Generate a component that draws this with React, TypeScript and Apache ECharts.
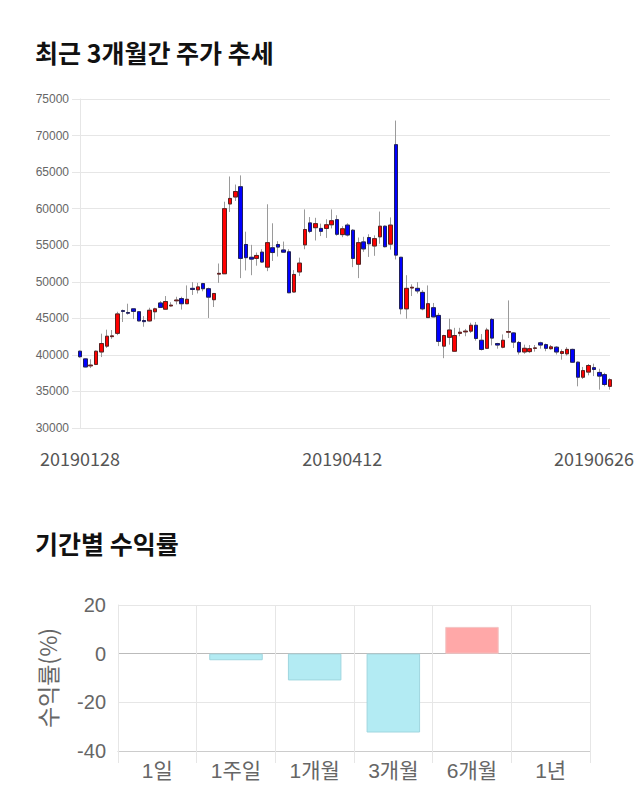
import React, { useEffect, useRef } from 'react';
import * as echarts from 'echarts';

const dates = [
  '20190128','20190129','20190130','20190131',
  '20190207','20190208',
  '20190211','20190212','20190213','20190214','20190215',
  '20190218','20190219','20190220','20190221','20190222',
  '20190225','20190226','20190227','20190228',
  '20190304','20190305','20190306','20190307','20190308',
  '20190311','20190312','20190313','20190314','20190315',
  '20190318','20190319','20190320','20190321','20190322',
  '20190325','20190326','20190327','20190328','20190329',
  '20190401','20190402','20190403','20190404','20190405',
  '20190408','20190409','20190410','20190411','20190412',
  '20190415','20190416','20190417','20190418','20190419',
  '20190422','20190423','20190424','20190425','20190426',
  '20190429','20190430',
  '20190502','20190503',
  '20190507','20190508','20190509','20190510',
  '20190513','20190514','20190515','20190516','20190517',
  '20190520','20190521','20190522','20190523','20190524',
  '20190527','20190528','20190529','20190530','20190531',
  '20190603','20190604','20190605','20190607',
  '20190610','20190611','20190612','20190613','20190614',
  '20190617','20190618','20190619','20190620','20190621',
  '20190624','20190625','20190626',
];

const opens = [
  40500, 39450, 38500, 38700, 40400, 41200, 42500, 42950, 46050, 45800,
  46300, 45900, 44700, 44650, 45900, 47100, 46250, 46700, 47400, 47700,
  47000, 49100, 48900, 49750, 49050, 47550, 51050, 51100, 60650, 61600,
  63000, 55100, 53350, 53200, 54050, 52000, 54650, 55100, 54350, 54100,
  48600, 51350, 55050, 58050, 57400, 57300, 57300, 57800, 58500, 56450,
  57750, 57050, 52400, 55450, 56050, 54900, 56150, 57600, 55150, 68750,
  53350, 46300, 49150, 49100, 48550, 45100, 46450, 45400, 41200, 42400,
  40500, 42950, 43150, 43250, 44050, 42000, 40900, 44850, 41550, 41050,
  43100, 43000, 41700, 40400, 40450, 40900, 41650, 41400, 40850, 41050,
  40200, 40150, 40750, 39000, 36950, 37650, 38250, 37600, 37300, 35700,
];

const closes = [
  39750, 38350, 38600, 40500, 41550, 42550, 42600, 45600, 45950, 45700,
  45950, 44650, 44550, 46100, 46300, 46500, 47300, 46800, 47500, 47000,
  47600, 48950, 49300, 49050, 47900, 48400, 51150, 60000, 61400, 62350,
  53200, 53300, 53100, 53600, 52700, 55350, 54000, 54750, 54050, 48500,
  51000, 52550, 57150, 56900, 57950, 56900, 57800, 58350, 56500, 57250,
  56400, 53200, 55350, 54500, 55200, 55900, 57600, 54800, 57750, 53650,
  46300, 49100, 49250, 48750, 46300, 47000, 45200, 41850, 42650, 43400,
  42650, 43100, 43250, 44050, 42250, 40750, 43400, 42300, 41350, 42000,
  43200, 41750, 40400, 40900, 40850, 40950, 41350, 40900, 41100, 40400,
  40450, 40750, 39000, 36950, 37850, 38550, 38000, 37100, 35950, 36600,
];

const lows = [
  39600, 38300, 38200, 38600, 39700, 40950, 42200, 42700, 44500, 45500,
  44900, 44600, 43850, 44550, 44850, 46450, 46200, 46600, 46900, 46200,
  46950, 48200, 48400, 48700, 45050, 46550, 49850, 51100, 59550, 61050,
  50500, 51550, 50900, 52200, 52600, 51450, 52850, 53450, 54000, 48450,
  48550, 50800, 54450, 56650, 55650, 56250, 56000, 57300, 56300, 56100,
  56200, 52000, 50500, 54100, 53400, 53550, 55200, 54700, 54400, 53050,
  45550, 44950, 48050, 48400, 46100, 45050, 45150, 41200, 39550, 41400,
  40450, 42550, 42550, 43000, 41950, 40600, 40800, 41300, 40850, 40900,
  42300, 40950, 40050, 40150, 40250, 40450, 40850, 40500, 40700, 40050,
  39350, 39900, 38900, 35700, 36700, 37200, 37100, 35250, 35700, 35250,
];

const highs = [
  40600, 39500, 39400, 40600, 42900, 43450, 43400, 45900, 46200, 47000,
  46300, 45950, 45300, 46450, 46450, 47350, 48050, 47200, 47950, 47950,
  49500, 49950, 49850, 49850, 49200, 48450, 52500, 60950, 64400, 63300,
  64550, 56850, 55050, 54000, 54450, 60600, 58000, 55550, 55500, 54450,
  51600, 53300, 59900, 58850, 58750, 57950, 58550, 59900, 59100, 57600,
  58000, 57200, 56050, 56150, 56500, 56350, 59600, 57700, 58800, 72050,
  53400, 50900, 49650, 49950, 48850, 49500, 47100, 45750, 42750, 44950,
  43700, 43700, 43550, 44400, 44500, 42850, 43700, 45050, 41650, 42800,
  47450, 43100, 41900, 41400, 41350, 41350, 41800, 41550, 41350, 41200,
  40750, 41050, 40850, 39100, 38350, 38750, 38800, 38100, 37550, 36800,
];

const priceMin = 30000;
const priceMax = 75000;
const priceStep = 5000;
const dateLabelIndexes = [0, 49, 99];

const periods = ['1일', '1주일', '1개월', '3개월', '6개월', '1년'];
const returns: (number | null)[] = [null, -2.7, -11.0, -32.4, 11.0, null];
const returnMin = -40;
const returnMax = 20;
const returnStep = 20;

const FONT = "'Liberation Sans', 'Noto Sans CJK KR', sans-serif";
const KFONT = "'Noto Sans CJK KR', sans-serif";

export default function App() {
  const ref = useRef<HTMLDivElement>(null);

  useEffect(() => {
    document.body.style.margin = '0';
    if (!ref.current) return;
    const chart = echarts.init(ref.current, null, { renderer: 'svg' });

    const ohlc = dates.map((_, i) => [opens[i], closes[i], lows[i], highs[i]]);
    const bodies = dates.map((_, i) => [
      opens[i],
      closes[i],
      Math.min(opens[i], closes[i]),
      Math.max(opens[i], closes[i]),
    ]);

    const barData = returns.map((v) =>
      v === null
        ? null
        : {
            value: v,
            itemStyle:
              v >= 0
                ? { color: '#ffa8a8', borderColor: '#f3c4c4', borderWidth: 1 }
                : { color: '#b3ebf3', borderColor: '#9fd6df', borderWidth: 1 },
          }
    );

    chart.setOption({
      animation: false,
      backgroundColor: '#ffffff',
      title: [
        {
          text: '최근 3개월간 주가 추세',
          left: 30,
          top: 34,
          textStyle: { fontFamily: KFONT, fontSize: 25, fontWeight: 'bold', color: '#111' },
        },
        {
          text: '기간별 수익률',
          left: 30,
          top: 525,
          textStyle: { fontFamily: KFONT, fontSize: 25, fontWeight: 'bold', color: '#111' },
        },
      ],
      grid: [
        { left: 80, top: 99, width: 530, height: 329, containLabel: false },
        { left: 118, top: 605, width: 472, height: 146, containLabel: false },
      ],
      xAxis: [
        {
          type: 'category',
          gridIndex: 0,
          data: dates,
          boundaryGap: false,
          axisLine: { show: false },
          axisTick: { show: false },
          splitLine: { show: false },
          axisLabel: {
            interval: (index: number) => dateLabelIndexes.includes(index),
            margin: 21,
            fontFamily: KFONT,
            fontSize: 18,
            color: '#555',
            formatter: (val: string, index: number) =>
              index === dates.length - 1 ? '{last|' + val + '}' : val,
            rich: {
              last: { fontFamily: KFONT, fontSize: 18, color: '#555', padding: [0, 32, 0, 0] },
            },
          },
        },
        {
          type: 'category',
          gridIndex: 1,
          data: periods,
          boundaryGap: true,
          axisLine: { show: true, onZero: false, lineStyle: { color: '#cccccc' } },
          axisTick: { show: true, length: 12, interval: 0, lineStyle: { color: '#e6e6e6' } },
          splitLine: { show: true, interval: 0, lineStyle: { color: '#e6e6e6' } },
          axisLabel: {
            interval: 0,
            margin: 9,
            fontFamily: FONT,
            fontSize: 21,
            color: '#666',
          },
        },
      ],
      yAxis: [
        {
          type: 'value',
          gridIndex: 0,
          min: priceMin,
          max: priceMax,
          interval: priceStep,
          axisLine: { show: true, lineStyle: { color: '#e6e6e6' } },
          axisTick: { show: true, length: 8, lineStyle: { color: '#e6e6e6' } },
          splitLine: { show: true, lineStyle: { color: '#e6e6e6' } },
          axisLabel: {
            margin: 11,
            fontFamily: FONT,
            fontSize: 12,
            color: '#666',
            formatter: (v: number) => String(v),
          },
        },
        {
          type: 'value',
          gridIndex: 1,
          min: returnMin,
          max: returnMax,
          interval: returnStep,
          name: '수익률(%)',
          nameLocation: 'middle',
          nameGap: 60,
          nameTextStyle: { fontFamily: KFONT, fontSize: 23, color: '#666' },
          axisLine: { show: true, lineStyle: { color: '#e6e6e6' } },
          axisTick: { show: false },
          splitLine: {
            show: true,
            lineStyle: { color: ['#cccccc', '#e6e6e6', '#bbbbbb', '#e6e6e6'] },
          },
          axisLabel: { margin: 12, fontFamily: FONT, fontSize: 20, color: '#666' },
        },
      ],
      series: [
        {
          name: 'wick',
          type: 'candlestick',
          xAxisIndex: 0,
          yAxisIndex: 0,
          barWidth: 4,
          data: ohlc,
          itemStyle: {
            color: 'rgba(0,0,0,0)',
            color0: 'rgba(0,0,0,0)',
            borderColor: '#9a9a9a',
            borderColor0: '#9a9a9a',
            borderColorDoji: '#9a9a9a',
            borderWidth: 1,
          },
          emphasis: { disabled: true },
        },
        {
          name: 'body',
          type: 'candlestick',
          xAxisIndex: 0,
          yAxisIndex: 0,
          barWidth: 4,
          data: bodies,
          itemStyle: {
            color: '#ff0000',
            color0: '#0000ff',
            borderColor: '#5a2020',
            borderColor0: '#20205a',
            borderColorDoji: '#333333',
            borderWidth: 1,
          },
          emphasis: { disabled: true },
        },
        {
          name: 'return',
          type: 'bar',
          xAxisIndex: 1,
          yAxisIndex: 1,
          barWidth: '68%',
          data: barData,
          emphasis: { disabled: true },
        },
      ],
    });

    return () => {
      chart.dispose();
    };
  }, []);

  return <div ref={ref} style={{ width: 640, height: 810 }} />;
}
